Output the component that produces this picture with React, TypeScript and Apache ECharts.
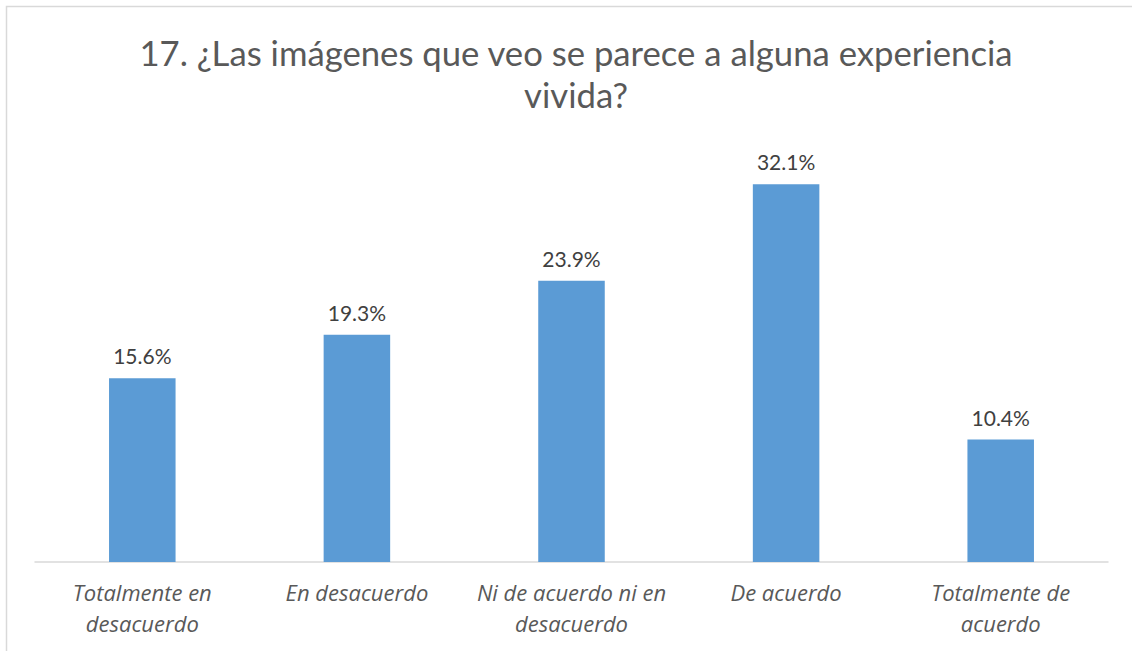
import React, { useEffect, useRef } from "react";
import * as echarts from "echarts";

const categories = [
  "Totalmente en\ndesacuerdo",
  "En desacuerdo",
  "Ni de acuerdo ni en\ndesacuerdo",
  "De acuerdo",
  "Totalmente de\nacuerdo",
];
const values = [15.6, 19.3, 23.9, 32.1, 10.4];
const titleText = "17. ¿Las imágenes que veo se parece a alguna experiencia\nvivida?";

export default function App() {
  const ref = useRef<HTMLDivElement>(null);
  useEffect(() => {
    if (!ref.current) return;
    const chart = echarts.init(ref.current, undefined, { renderer: "svg" });
    chart.setOption({
      animation: false,
      backgroundColor: "#ffffff",
      title: {
        text: titleText,
        left: 571,
        textAlign: "center",
        top: 26,
        textStyle: {
          fontFamily: "Lato",
          fontSize: 34.7,
          fontWeight: "normal",
          color: "#595959",
          lineHeight: 42,
        },
      },
      graphic: [
        {
          type: "rect",
          shape: { x: 6.5, y: 6.5, width: 1130, height: 650 },
          style: { fill: "none", stroke: "#d9d9d9", lineWidth: 1.5 },
          silent: true,
        },
      ],
      grid: { left: 35, right: 24, top: 150, bottom: 89 },
      xAxis: {
        type: "category",
        data: categories,
        axisLine: { lineStyle: { color: "#d9d9d9", width: 1.5 } },
        axisTick: { show: false },
        axisLabel: {
          interval: 0,
          margin: 14,
          fontFamily: "Open Sans",
          fontStyle: "italic",
          fontSize: 22,
          lineHeight: 31,
          color: "#595959",
        },
      },
      yAxis: {
        type: "value",
        min: 0,
        max: 35,
        show: false,
        splitLine: { show: false },
      },
      series: [
        {
          type: "bar",
          data: values,
          barWidth: "31%",
          itemStyle: { color: "#5b9bd5" },
          label: {
            show: true,
            position: "top",
            distance: 12,
            formatter: (p: any) => p.value.toFixed(1) + "%",
            fontFamily: "Lato",
            fontSize: 21,
            color: "#404040",
          },
        },
      ],
    });
    return () => chart.dispose();
  }, []);
  return (
    <div
      ref={ref}
      style={{ position: "fixed", left: 0, top: 0, width: 1132, height: 651 }}
    />
  );
}
